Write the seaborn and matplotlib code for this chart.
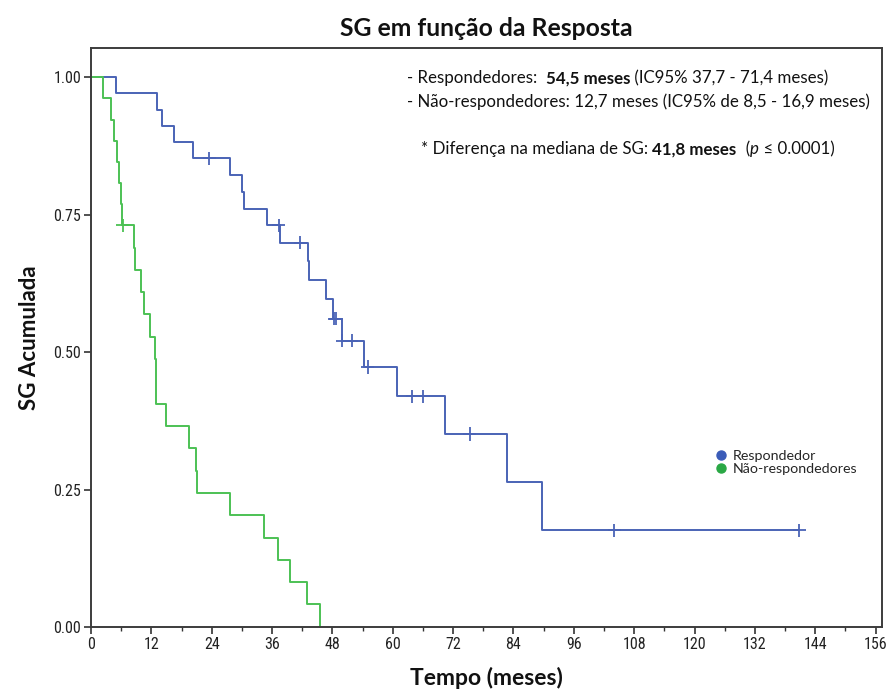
import numpy as np
import pandas as pd
import matplotlib
matplotlib.use("Agg")
import matplotlib.pyplot as plt
from matplotlib.lines import Line2D
from matplotlib.ticker import MultipleLocator
import seaborn as sns

# Kaplan-Meier step curves: event times (months) and cumulative survival after each step
resp_times = [0, 5.0, 13.2, 14.2, 16.5, 20.3, 27.6, 30.0, 30.5, 34.9, 37.6, 43.1, 43.3,
              46.7, 48.2, 50.0, 54.3, 60.8, 70.4, 82.8, 89.6]
resp_surv = [1.0, 0.971, 0.941, 0.912, 0.882, 0.853, 0.822, 0.792, 0.761, 0.731, 0.699,
             0.665, 0.631, 0.596, 0.561, 0.521, 0.473, 0.420, 0.351, 0.263, 0.176]
resp_censored = [23.5, 37.3, 41.6, 48.4, 48.7, 50.0, 51.8, 55.0, 63.9, 66.1, 75.3, 104.0, 140.8]

nonresp_times = [0, 2.45, 4.0, 4.5, 5.1, 5.6, 5.9, 6.1, 8.6, 8.7, 9.9, 10.5, 11.7, 12.7,
                 12.9, 13.0, 14.9, 19.5, 20.9, 21.1, 27.6, 34.3, 37.2, 39.6, 42.9, 45.5]
nonresp_surv = [1.0, 0.962, 0.923, 0.885, 0.846, 0.808, 0.769, 0.731, 0.690, 0.650, 0.609,
                0.569, 0.528, 0.487, 0.447, 0.406, 0.366, 0.325, 0.284, 0.244, 0.203,
                0.162, 0.122, 0.081, 0.041, 0.0]
nonresp_censored = [6.3]

groups = ["Respondedor", "Não-respondedores"]
colors = ["#4a63b6", "#4cc154"]
legend_colors = ["#3b5cb8", "#2aa845"]

x_ticks = list(range(0, 157, 12))
y_ticks = [0.0, 0.25, 0.5, 0.75, 1.0]

title = "SG em função da Resposta"
x_label = "Tempo (meses)"
y_label = "SG Acumulada"

TEXT_FONT = ["Lato", "DejaVu Sans"]
TICK_FONT = ["Liberation Sans Narrow", "Roboto Condensed", "Liberation Sans", "DejaVu Sans"]


def step_value(times, surv, t):
    idx = np.searchsorted(times, t, side="right") - 1
    return surv[idx]


def curve_frame(name, times, surv, censored):
    t = list(times)
    s = list(surv)
    last = max(censored) if censored else t[-1]
    if last > t[-1]:
        t.append(last)
        s.append(s[-1])
    return pd.DataFrame({"tempo": t, "sobrevida": s, "grupo": name})


def censor_frame(name, times, surv, censored):
    return pd.DataFrame({
        "tempo": censored,
        "sobrevida": [step_value(times, surv, c) for c in censored],
        "grupo": name,
    })


sns.set_theme(style="white")
plt.rcParams["font.family"] = TEXT_FONT

fig = plt.figure(figsize=(8.92, 6.89), dpi=100)
ax = fig.add_axes([0.102, 0.090, 0.887, 0.840])

curves = pd.concat([
    curve_frame(groups[0], resp_times, resp_surv, resp_censored),
    curve_frame(groups[1], nonresp_times, nonresp_surv, nonresp_censored),
])
marks = pd.concat([
    censor_frame(groups[0], resp_times, resp_surv, resp_censored),
    censor_frame(groups[1], nonresp_times, nonresp_surv, nonresp_censored),
])
palette = dict(zip(groups, colors))

for g in groups:
    sub = curves[curves["grupo"] == g]
    sns.lineplot(data=sub, x="tempo", y="sobrevida", color=palette[g], estimator=None,
                 sort=False, drawstyle="steps-post", linewidth=1.4, ax=ax, legend=False)
sns.scatterplot(data=marks, x="tempo", y="sobrevida", hue="grupo", palette=palette,
                marker="+", s=90, linewidth=1.3, ax=ax, legend=False, zorder=3)

ax.set_xlim(0, 157.3)
ax.set_ylim(0, 1.053)
ax.set_xticks(x_ticks)
ax.xaxis.set_minor_locator(MultipleLocator(6))
ax.set_yticks(y_ticks)
ax.set_yticklabels([f"{v:.2f}" for v in y_ticks])
ax.tick_params(axis="both", which="major", direction="out", length=5, width=1.2,
               color="#333333", bottom=True, left=True, labelsize=11.5, pad=2)
ax.tick_params(axis="x", which="minor", direction="out", length=3, width=1.0,
               color="#333333", bottom=True)
for lab in ax.get_xticklabels() + ax.get_yticklabels():
    lab.set_family(TICK_FONT)
    lab.set_color("#222222")

for sp in ax.spines.values():
    sp.set_visible(True)
    sp.set_color("#3c3c3c")
    sp.set_linewidth(1.4)
ax.grid(False)

ax.set_xlabel(x_label, fontsize=16.5, fontweight="bold", color="#111111", labelpad=11)
ax.set_ylabel(y_label, fontsize=16, fontweight="bold", color="#111111", labelpad=10)
ax.set_title(title, fontsize=17.8, fontweight="bold", color="#111111", pad=9)


def rich_line(ax, x, y, pieces, size=12.2):
    """Write a line of text made of differently styled pieces, one after the other."""
    prev = None
    for text, style in pieces:
        kw = dict(fontsize=size, color="#111111", va="center", ha="left")
        if "b" in style:
            kw["fontweight"] = "bold"
        if "i" in style:
            kw["fontstyle"] = "italic"
        if prev is None:
            prev = ax.text(x, y, text, transform=ax.transData, **kw)
        else:
            prev = ax.annotate(text, xy=(1, 0.5), xycoords=prev, **kw)
    return prev


rich_line(ax, 62.8, 0.998, [("- Respondedores:  ", ""), ("54,5 meses", "b"),
                            (" (IC95% 37,7 - 71,4 meses)", "")])
rich_line(ax, 62.8, 0.956, [("- Não-respondedores: 12,7 meses (IC95% de 8,5 - 16,9 meses)", "")])
rich_line(ax, 65.6, 0.869, [("* Diferença na mediana de SG: ", ""), ("41,8 meses", "b"),
                            ("  (", ""), ("p", "i"), (" ≤ 0.0001)", "")])

handles = [Line2D([], [], linestyle="none", marker="o", markersize=6.5,
                  markerfacecolor=c, markeredgecolor=c) for c in legend_colors]
ax.legend(handles, groups, loc="upper left", bbox_to_anchor=(0.78, 0.316),
          frameon=False, fontsize=10.3, handletextpad=0.35, labelspacing=0.05,
          handlelength=1.0, borderaxespad=0)

fig.savefig("out.png", dpi=100)
